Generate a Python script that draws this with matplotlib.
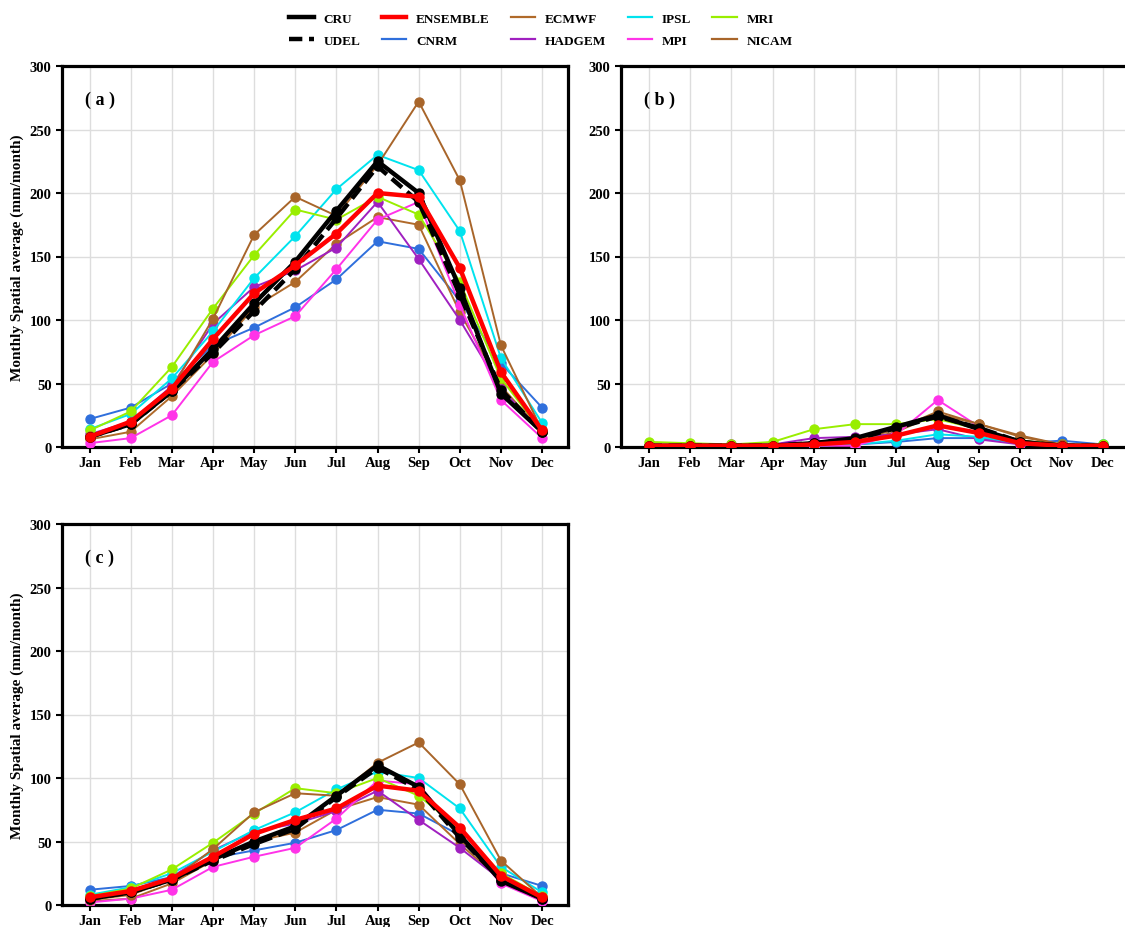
import matplotlib
matplotlib.use("Agg")
import matplotlib.pyplot as plt
from matplotlib.lines import Line2D

plt.rcParams['font.family'] = ['Liberation Serif', 'DejaVu Serif']
plt.rcParams['font.weight'] = 'bold'

months = ["Jan", "Feb", "Mar", "Apr", "May", "Jun", "Jul", "Aug", "Sep", "Oct", "Nov", "Dec"]
models = ["CRU", "UDEL", "ENSEMBLE", "CNRM", "ECMWF", "HADGEM", "IPSL", "MPI", "MRI", "NICAM"]

# panel (a)
a_vals = {
    "CRU":      [8, 18, 44, 77, 113, 146, 186, 225, 200, 125, 42, 12],
    "UDEL":     [8, 18, 44, 74, 107, 140, 180, 221, 193, 120, 45, 12],
    "ENSEMBLE": [8, 20, 46, 85, 121, 143, 168, 200, 197, 141, 59, 13],
    "CNRM":     [22, 31, 50, 80, 94, 110, 132, 162, 156, 115, 66, 31],
    "ECMWF":    [6, 12, 40, 73, 110, 130, 160, 181, 175, 106, 48, 12],
    "HADGEM":   [10, 20, 48, 97, 126, 139, 157, 193, 148, 100, 46, 12],
    "IPSL":     [14, 26, 54, 91, 133, 166, 203, 230, 218, 170, 70, 19],
    "MPI":      [3, 7, 25, 67, 88, 103, 140, 179, 193, 112, 37, 7],
    "MRI":      [13, 28, 63, 109, 151, 187, 179, 197, 183, 130, 54, 12],
    "NICAM":    [9, 18, 46, 101, 167, 197, 182, 222, 272, 210, 80, 13],
}

# panel (b)
b_vals = {
    "CRU":      [1, 1, 1, 1, 3, 7, 16, 25, 14, 4, 1, 1],
    "UDEL":     [1, 1, 1, 1, 3, 6, 15, 24, 15, 4, 1, 1],
    "ENSEMBLE": [1, 1, 1, 1, 2, 4, 9, 17, 11, 3, 1, 1],
    "CNRM":     [1, 1, 1, 1, 1, 2, 4, 7, 7, 3, 5, 2],
    "ECMWF":    [1, 1, 1, 1, 2, 4, 12, 26, 18, 8, 2, 1],
    "HADGEM":   [1, 1, 2, 2, 7, 8, 10, 14, 6, 2, 1, 1],
    "IPSL":     [1, 1, 1, 1, 1, 2, 5, 10, 8, 3, 2, 2],
    "MPI":      [1, 1, 1, 1, 1, 1, 10, 37, 16, 2, 1, 1],
    "MRI":      [4, 3, 2, 4, 14, 18, 18, 22, 14, 5, 2, 2],
    "NICAM":    [1, 1, 1, 1, 2, 5, 14, 28, 18, 9, 2, 1],
}

# panel (c)
c_vals = {
    "CRU":      [5, 10, 20, 36, 50, 62, 86, 110, 93, 55, 19, 5],
    "UDEL":     [5, 10, 20, 35, 48, 60, 85, 108, 91, 53, 20, 5],
    "ENSEMBLE": [6, 11, 21, 38, 56, 67, 76, 94, 90, 61, 23, 6],
    "CNRM":     [12, 15, 22, 37, 43, 49, 59, 75, 72, 55, 25, 15],
    "ECMWF":    [3, 5, 17, 35, 50, 57, 75, 85, 79, 48, 20, 5],
    "HADGEM":   [5, 10, 22, 43, 58, 64, 74, 90, 67, 45, 20, 5],
    "IPSL":     [8, 14, 25, 42, 59, 73, 91, 105, 100, 76, 30, 10],
    "MPI":      [2, 5, 12, 30, 38, 45, 68, 98, 95, 55, 17, 3],
    "MRI":      [7, 13, 28, 49, 72, 92, 88, 100, 86, 60, 25, 7],
    "NICAM":    [4, 8, 20, 44, 73, 88, 86, 112, 128, 95, 35, 6],
}

colors = {
    "CRU": "black", "UDEL": "black", "ENSEMBLE": "#ff0000", "CNRM": "#2f6fdc",
    "ECMWF": "#b06a2a", "HADGEM": "#a020c0", "IPSL": "#00e3ee", "MPI": "#ff33e8",
    "MRI": "#99ee00", "NICAM": "#a8652a",
}
thick = ["CRU", "UDEL", "ENSEMBLE"]

fig = plt.figure(figsize=(11.25, 9.28), dpi=100)
W, H = 1125, 928


def make_ax(left, top, width=506, height=381):
    return fig.add_axes([left / W, 1 - (top + height) / H, width / W, height / H])


def draw(ax, vals, label, ylab=True):
    x = list(range(12))
    for m in models:
        lw = 3.2 if m in thick else 1.4
        ls = (0, (3, 1.5)) if m == "UDEL" else "-"
        z = 4 if m in thick else 3
        ax.plot(x, vals[m], color=colors[m], lw=lw, ls=ls, marker='o', markersize=6.5,
                zorder=z, label=m)
    ax.set_xlim(-0.67, 11.63)
    ax.set_ylim(0, 300)
    ax.set_yticks(range(0, 301, 50))
    ax.set_xticks(x)
    ax.set_xticklabels(months)
    ax.grid(True, color="#dddddd", lw=1)
    ax.set_axisbelow(True)
    for s in ax.spines.values():
        s.set_linewidth(2.3)
    ax.tick_params(labelsize=10.5, width=1.5, length=4)
    ax.tick_params(axis='x', pad=2.5)
    ax.text(0.045, 0.9, "( %s )" % label, transform=ax.transAxes, fontsize=13,
            fontweight='bold')
    if ylab:
        ax.set_ylabel("Monthly Spatial average (mm/month)", fontsize=11, fontweight='bold')


ax_a = make_ax(62, 67)
draw(ax_a, a_vals, "a")
ax_b = make_ax(621, 67, width=508)
draw(ax_b, b_vals, "b", ylab=False)
ax_c = make_ax(62, 525)
draw(ax_c, c_vals, "c")

leg_handles = [Line2D([0], [0], color=colors[m], lw=(3.2 if m in thick else 1.6),
                      ls=((0, (3, 1.5)) if m == "UDEL" else "-")) for m in models]
fig.legend(leg_handles, models, loc="upper center", bbox_to_anchor=(0.481, 0.998), ncol=5,
           frameon=False, fontsize=9.5, handlelength=1.85, columnspacing=1.6,
           labelspacing=0.75, handletextpad=0.75)

fig.savefig("out.png", dpi=100)
